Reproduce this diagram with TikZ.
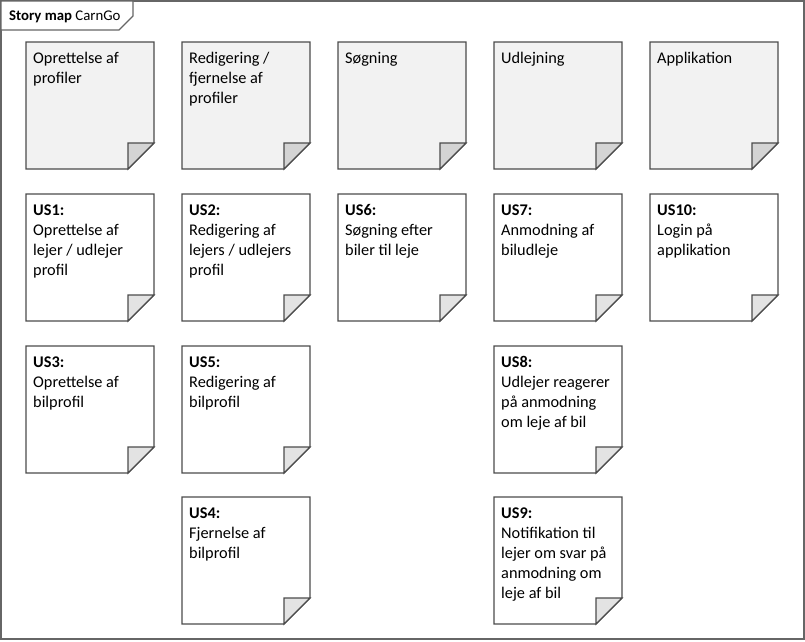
\documentclass[tikz,border=0pt]{standalone}
\usepackage{fontspec}
\setmainfont{Carlito}
\tikzset{
  frameline/.style={draw=black!60, line width=1.1pt},
  cardline/.style={draw=black!70, line width=1.1pt},
  epicfill/.style={fill=black!5},
  epicfold/.style={fill=black!17},
  storyfill/.style={fill=white},
  storyfold/.style={fill=black!11},
  cardtext/.style={anchor=north west, inner sep=0pt, align=left,
    font=\fontsize{16.3}{20}\selectfont}
}
\begin{document}
\begin{tikzpicture}[x=1pt,y=-1pt]
\useasboundingbox (0,0) rectangle (805,641);
\fill[white] (0,0) rectangle (805,641);

% ramme med fane
\draw[frameline] (1,1) rectangle (804,639);
\draw[frameline, fill=white] (1,1) -- (133,1) -- (133,16) -- (119,30) -- (1,30) -- cycle;
\node[anchor=base west, inner sep=0pt, font=\fontsize{14.8}{16}\selectfont] (titel) at (9,20)
  {\textbf{Story map} CarnGo};

% epics
\foreach \x in {26,182,338,494,650} {
  \draw[cardline, epicfill] (\x,42) -- ++(128,0) -- ++(0,101) -- ++(-26,26) -- ++(-102,0) -- cycle;
  \draw[cardline, epicfold] (\x+102,143) -- ++(26,0) -- ++(-26,26) -- cycle;
}

% user stories
\foreach \x/\y in {26/194,182/194,338/194,494/194,650/194,
                   26/346,182/346,494/346,
                   182/497,494/497} {
  \draw[cardline, storyfill] (\x,\y) -- ++(128,0) -- ++(0,101) -- ++(-26,26) -- ++(-102,0) -- cycle;
  \draw[cardline, storyfold] (\x+102,\y+101) -- ++(26,0) -- ++(-26,26) -- cycle;
}

% tekster, raekke 1
\node[cardtext] (opr) at (33,49) {\strut Oprettelse af\\profiler};
\node[cardtext] (red) at (189,49) {\strut Redigering /\\fjernelse af\\profiler};
\node[cardtext] (soeg) at (345,49) {\strut Søgning};
\node[cardtext] (udl) at (501,49) {\strut Udlejning};
\node[cardtext] (app) at (657,49) {\strut Applikation};

% raekke 2
\node[cardtext] (us1) at (33,201) {\strut\textbf{US1:}\\Oprettelse af\\lejer / udlejer\\profil};
\node[cardtext] (us2) at (189,201) {\strut\textbf{US2:}\\Redigering af\\lejers / udlejers\\profil};
\node[cardtext] (us6) at (345,201) {\strut\textbf{US6:}\\Søgning efter\\biler til leje};
\node[cardtext] (us7) at (501,201) {\strut\textbf{US7:}\\Anmodning af\\biludleje};
\node[cardtext] (us10) at (657,201) {\strut\textbf{US10:}\\Login på\\applikation};

% raekke 3
\node[cardtext] (us3) at (33,353) {\strut\textbf{US3:}\\Oprettelse af\\bilprofil};
\node[cardtext] (us5) at (189,353) {\strut\textbf{US5:}\\Redigering af\\bilprofil};
\node[cardtext] (us8) at (501,353) {\strut\textbf{US8:}\\Udlejer reagerer\\på anmodning\\om leje af bil};

% raekke 4
\node[cardtext] (us4) at (189,504) {\strut\textbf{US4:}\\Fjernelse af\\bilprofil};
\node[cardtext] (us9) at (501,504) {\strut\textbf{US9:}\\Notifikation til\\lejer om svar på\\anmodning om\\leje af bil};
\end{tikzpicture}
\end{document}
